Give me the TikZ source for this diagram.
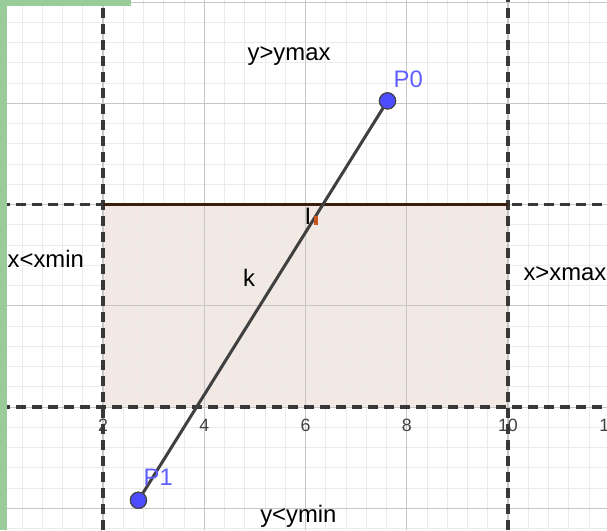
\documentclass[tikz,border=0pt]{standalone}
\usepackage{fontspec}
\setmainfont{Liberation Sans}
\usepackage{tikz}
\usetikzlibrary{positioning}

\definecolor{ggbgreen}{HTML}{99CC99}
\definecolor{ptblue}{HTML}{4D4DFF}
\definecolor{lblblue}{HTML}{6060FF}
\definecolor{winfill}{HTML}{F3E9E4}
\definecolor{winedge}{HTML}{3A1E0E}
\definecolor{hitorange}{HTML}{C8561E}

\begin{document}
\begin{tikzpicture}[every node/.style={font=\fontsize{13.4}{16}\selectfont},
    minorgrid/.style={draw=black!8, line width=0.5pt},
    majorgrid/.style={draw=black!22, line width=0.6pt},
    clipline/.style={draw=black!78, line width=2pt, dash pattern=on 5.5pt off 3.5pt},
    region/.style={anchor=base west, inner sep=0pt},
    pt/.style={circle, draw=black!75, fill=ptblue, minimum size=0.32cm, inner sep=0pt, line width=0.6pt},
    ptlabel/.style={text=lblblue, inner sep=0pt},
    tick/.style={font=\fontsize{10}{12}\selectfont, text=black!75, inner sep=0pt},
    hitmark/.style={fill=hitorange, minimum width=0.08cm, minimum height=0.18cm, inner sep=0pt}]
    \useasboundingbox (-0.035,-2.431) rectangle (11.956,8.043);

    % Window
    \fill[winfill] (2,0) rectangle (10,4);

    % Grid
    \draw[minorgrid] (-0.035,-2.431) grid[step=0.4] (11.956,8.043);
    \draw[majorgrid] (-0.035,-2.431) grid[step=2] (11.956,8.043);

    % Tick labels
    \node[tick] (t2) at (2,-0.356) {2};
    \node[tick] (t4) at (4,-0.356) {4};
    \node[tick] (t6) at (6,-0.356) {6};
    \node[tick] (t8) at (8,-0.356) {8};
    \node[tick] (t10) at (10,-0.356) {10};
    \node[tick] (t12) at (12,-0.356) {12};

    % Clipping lines
    \draw[clipline] (-0.035,4) -- (11.956,4);
    \draw[clipline] (-0.035,0) -- (11.956,0);
    \draw[clipline] (2,-2.431) -- (2,8.043);
    \draw[clipline] (10,-2.431) -- (10,8.043);
    \draw[winedge, line width=2pt] (2,4) -- (10,4);

    % Region labels
    \node[region] (above) at (4.85,6.84) {y>ymax};
    \node[region] (below) at (5.10,-2.27) {y<ymin};
    \node[region] (left) at (0.11,2.75) {x<xmin};
    \node[region] (right) at (10.30,2.51) {x>xmax};

    % Segment k
    \node[pt] (P0) at (7.62,6.05) {};
    \node[pt] (P1) at (2.70,-1.84) {};
    \draw[black!75, line width=1.7pt] (P1) -- (P0);
    \node[pt] at (P0) {};
    \node[pt] at (P1) {};
    \node[ptlabel] (lP0) at (8.03,6.48) {P0};
    \node[ptlabel] (lP1) at (3.09,-1.38) {P1};
    \node[region] (k) at (4.76,2.38) {k};

    % Intersection
    \node[inner sep=0pt] (I) at (6.05,3.77) {I};
    \node[hitmark, right=1pt of I, yshift=-0.09cm] (Imark) {};

    % Frame
    \fill[ggbgreen] (-0.035,-2.431) rectangle (0.103,8.043);
    \fill[ggbgreen] (-0.035,7.925) rectangle (2.55,8.043);
\end{tikzpicture}
\end{document}
